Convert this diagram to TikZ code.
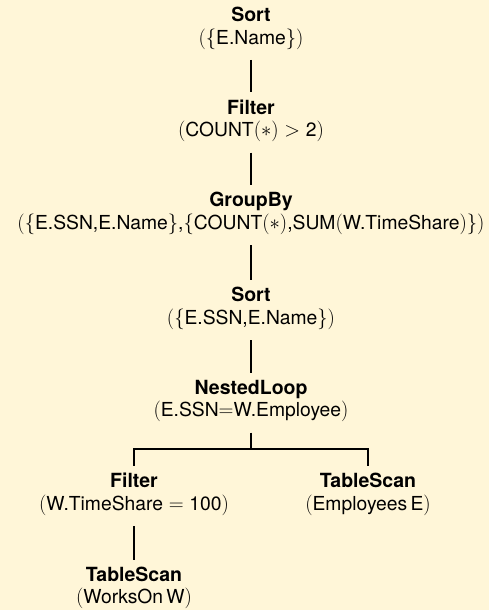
\documentclass[tikz,border=0pt]{standalone}
\usepackage{fontspec}
\setmainfont{TeX Gyre Heros}
\definecolor{bg}{RGB}{255,246,216}
\tikzset{
  op/.style={align=center, inner sep=0pt, font=\fontsize{19.3bp}{22.5bp}\selectfont},
  conn/.style={line width=1.6bp, shorten <=31.5bp, shorten >=28.5bp},
}
\newcommand{\optitle}[1]{{\fontsize{19.5bp}{22.5bp}\selectfont\bfseries #1}}
\begin{document}
\begin{tikzpicture}[x=1bp,y=-1bp]
\fill[bg] (0,0) rectangle (489,610);
\useasboundingbox (0,0) rectangle (489,610);
\node[op] (sort1) at (251,28.5) {\optitle{Sort}\\$(\{$E.Name$\})$};
\node[op] (filter1) at (251,121) {\optitle{Filter}\\$($COUNT$(\ast) > \mbox{2})$};
\node[op] (group) at (251,213.5) {\optitle{GroupBy}\\$(\{$E.SSN,E.Name$\}$,$\{$COUNT$(\ast)$,SUM$($W.TimeShare$)\})$};
\node[op] (sort2) at (251,308.5) {\optitle{Sort}\\$(\{$E.SSN,E.Name$\})$};
\node[op] (nl) at (251,401) {\optitle{NestedLoop}\\$($E.SSN$=$W.Employee$)$};
\node[op] (filter2) at (134,494.5) {\optitle{Filter}\\$(\mbox{W.TimeShare} = \mbox{100})$};
\node[op] (tsE) at (368,494.5) {\optitle{TableScan}\\$(\mbox{Employees\,E})$};
\node[op] (tsW) at (134,588) {\optitle{TableScan}\\$(\mbox{WorksOn\,W})$};
\draw[conn] (sort1.center) -- (filter1.center);
\draw[conn] (filter1.center) -- (group.center);
\draw[conn] (group.center) -- (sort2.center);
\draw[conn] (sort2.center) -- (nl.center);
\coordinate (split) at (251,449);
\draw[line width=1.6bp, shorten <=31.5bp] (nl.center) -- (split);
\draw[line width=1.6bp, shorten >=28.5bp] (split) -| (filter2.center);
\draw[line width=1.6bp, shorten >=28.5bp] (split) -| (tsE.center);
\draw[conn] (filter2.center) -- (tsW.center);
\end{tikzpicture}
\end{document}
